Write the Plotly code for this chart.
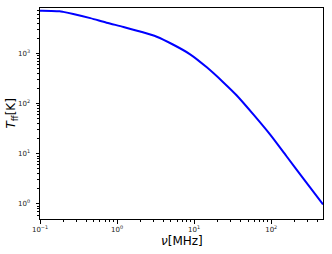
import plotly.graph_objects as go

# frequency in MHz and free-free brightness temperature in K
nu_mhz = [0.1, 0.14, 0.18, 0.2, 0.27, 0.45, 0.73, 1.21, 1.99, 3.27, 5.38, 8.87,
          14.6, 24.0, 35.5, 59.0, 97.0, 158.0, 263.0, 470.0]
t_ff = [7000, 6980, 6870, 6680, 6067, 5010, 4074, 3350, 2722, 2138, 1479, 955,
        525, 263, 146, 60, 24.0, 8.9, 3.16, 0.98]

x_ticks = [0.1, 1, 10, 100]
y_ticks = [1, 10, 100, 1000]
x_minor = [m * d for d in (0.1, 1, 10, 100) for m in range(2, 10) if m * d <= 470]
y_minor = [m * d for d in (0.1, 1, 10, 100, 1000) for m in range(2, 10) if 0.5 <= m * d <= 8000]

fig = go.Figure()
fig.add_trace(go.Scatter(x=nu_mhz, y=t_ff, mode="lines",
                         line=dict(color="#0000ff", width=2, shape="spline", smoothing=0.8),
                         showlegend=False))

axis_common = dict(type="log", showgrid=False, zeroline=False, showline=True,
                   linecolor="black", linewidth=1, mirror=True, automargin=False,
                   ticks="outside", ticklen=3.5, tickwidth=0.8, tickcolor="black",
                   tickfont=dict(family="DejaVu Sans", size=7, color="#222"))

fig.update_xaxes(range=[-1, 2.672], tickmode="array", tickvals=x_ticks,
                 ticktext=["10<sup>−1</sup>", "10<sup>0</sup>", "10<sup>1</sup>", "10<sup>2</sup>"],
                 minor=dict(tickmode="array", tickvals=x_minor, ticks="outside", ticklen=2,
                            tickwidth=0.6, tickcolor="black", showgrid=False),
                 ticklabelstandoff=0,
                 **axis_common)
fig.update_yaxes(range=[-0.3, 3.902], tickmode="array", tickvals=y_ticks,
                 ticktext=["10<sup>0</sup>", "10<sup>1</sup>", "10<sup>2</sup>", "10<sup>3</sup>"],
                 minor=dict(tickmode="array", tickvals=y_minor, ticks="outside", ticklen=2,
                            tickwidth=0.6, tickcolor="black", showgrid=False),
                 ticklabelstandoff=4,
                 **axis_common)

fig.add_annotation(text="<i>ν</i>[MHz]", xref="paper", yref="paper", x=0.5, y=-0.104,
                   xanchor="center", yanchor="middle", showarrow=False,
                   font=dict(family="DejaVu Sans", size=12, color="black"))
fig.add_annotation(text="<i>T</i><sub>ff</sub>[K]", xref="paper", yref="paper", x=-0.099, y=0.5,
                   xanchor="center", yanchor="middle", showarrow=False, textangle=-90,
                   font=dict(family="DejaVu Sans", size=12, color="black"))

fig.update_layout(width=332, height=254, margin=dict(l=40, r=9, t=8, b=35),
                  plot_bgcolor="white", paper_bgcolor="white")

fig.write_html("out.html", config={"displayModeBar": False},
               post_script="document.body.style.margin='0';")
